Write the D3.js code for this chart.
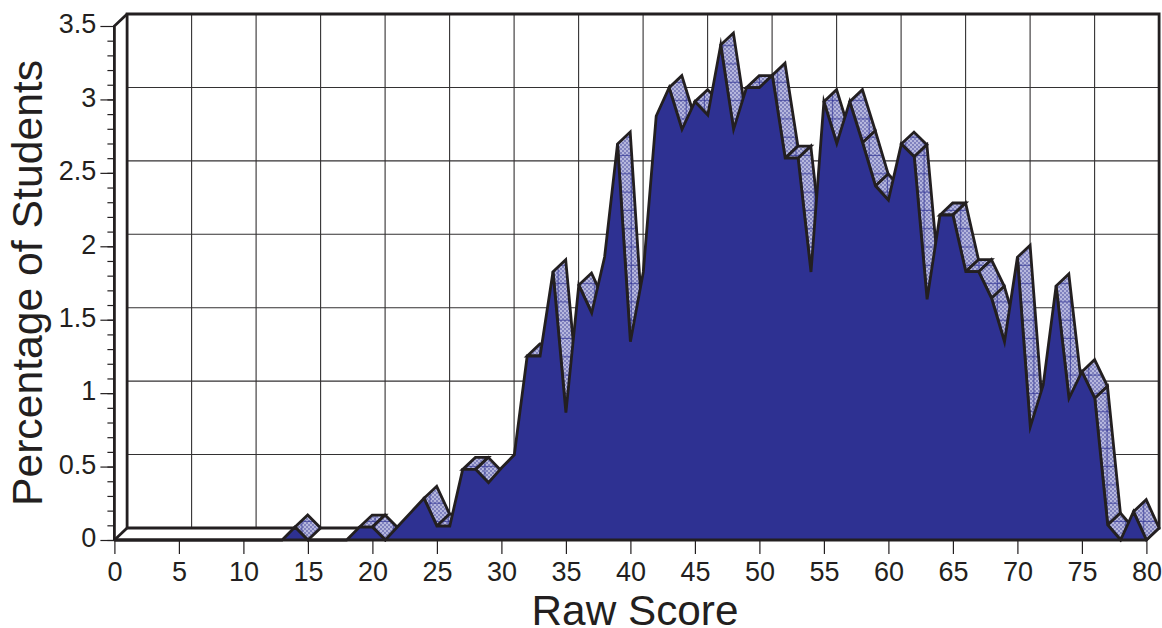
<!DOCTYPE html>
<html>
<head>
<meta charset="utf-8">
<style>
  html, body { margin: 0; padding: 0; background: #fff; }
  svg { display: block; }
  text { font-family: "Liberation Sans", Arial, sans-serif; fill: #231f20; }
</style>
<script src="https://cdn.jsdelivr.net/npm/d3@7"></script>
</head>
<body>
<script>
var width = 1162;
var height = 628;

var ink = "#231f20";
var navy = "#2e3192";

// raw score 0..80, percentage of students
var scores = d3.range(0, 81);
var percents = [
  0, 0, 0, 0, 0, 0, 0, 0, 0, 0,
  0, 0, 0, 0, 0.088, 0, 0, 0, 0, 0.088,
  0.088, 0, 0.095, 0.19, 0.284, 0.095, 0.095, 0.481, 0.481, 0.39,
  0.49, 0.58, 1.253, 1.253, 1.827, 0.867, 1.736, 1.546, 1.927, 2.696,
  1.35, 1.825, 2.887, 3.08, 2.796, 2.985, 2.894, 3.37, 2.796, 3.08,
  3.08, 3.165, 2.6, 2.6, 1.825, 2.985, 2.70, 2.985, 2.705, 2.41,
  2.315, 2.696, 2.61, 1.639, 2.213, 2.213, 1.827, 1.827, 1.646, 1.35,
  1.925, 0.771, 1.055, 1.73, 0.965, 1.146, 0.965, 0.102, 0, 0.193,
  0
];
var xTicks = d3.range(0, 81, 5);
var yTicks = [0, 0.5, 1, 1.5, 2, 2.5, 3, 3.5];
var yMinorTicks = d3.range(0, 35).map(function(d) { return d / 10; });

var x = d3.scaleLinear().domain([0, 80]).range([114.4, 1146.4]);
var y = d3.scaleLinear().domain([0, 3.5]).range([540, 26]);

// offset of the back wall from the front plane
var depthX = 12.7;
var depthY = -12;

var svg = d3.select("body")
            .append("svg")
            .attr("width", width)
            .attr("height", height);

// fine dither plus the sparse blue hatch on the ribbon faces
var defs = svg.append("defs");
var dither = defs.append("pattern")
                 .attr("id", "dither")
                 .attr("patternUnits", "userSpaceOnUse")
                 .attr("width", 4)
                 .attr("height", 4);
dither.append("rect").attr("width", 4).attr("height", 4).attr("fill", "#b6b7dd");
dither.append("rect").attr("width", 2).attr("height", 2).attr("fill", "#8082be");
dither.append("rect").attr("x", 2).attr("y", 2).attr("width", 2).attr("height", 2).attr("fill", "#8082be");

var hatch = defs.append("pattern")
                .attr("id", "hatch")
                .attr("patternUnits", "userSpaceOnUse")
                .attr("width", 18.3)
                .attr("height", 18.3);
hatch.append("path")
     .attr("d", "M0 9H18.3M9 0V18.3")
     .attr("stroke", navy)
     .attr("stroke-width", 0.8)
     .attr("fill", "none");

// back wall grid
var grid = svg.append("g").attr("stroke", "#333132").attr("stroke-width", 1.1);
grid.selectAll("line.v")
    .data(xTicks.slice(1, -1))
    .enter()
    .append("line")
    .attr("class", "v")
    .attr("x1", function(d) { return x(d) + depthX; })
    .attr("x2", function(d) { return x(d) + depthX; })
    .attr("y1", y(3.5) + depthY)
    .attr("y2", y(0) + depthY);
grid.selectAll("line.h")
    .data(yTicks.slice(1, -1))
    .enter()
    .append("line")
    .attr("class", "h")
    .attr("x1", x(0) + depthX)
    .attr("x2", x(80) + depthX)
    .attr("y1", function(d) { return y(d) + depthY; })
    .attr("y2", function(d) { return y(d) + depthY; });

// box outline
var box = svg.append("g")
             .attr("fill", "none")
             .attr("stroke", ink)
             .attr("stroke-width", 2.8);
box.append("path")
   .attr("d", "M" + (x(0) + depthX) + " " + (y(0) + depthY)
     + "V" + (y(3.5) + depthY)
     + "H" + (x(80) + depthX)
     + "V" + (y(0) + depthY)
     + "H" + (x(0) + depthX));
box.append("path")
   .attr("d", "M" + x(0) + " " + y(0)
     + "V" + y(3.5)
     + "L" + (x(0) + depthX) + " " + (y(3.5) + depthY));
box.append("path")
   .attr("d", "M" + x(0) + " " + y(0)
     + "L" + (x(0) + depthX) + " " + (y(0) + depthY));
box.append("path")
   .attr("d", "M" + x(80) + " " + y(0)
     + "L" + (x(80) + depthX) + " " + (y(0) + depthY));

// top faces of the ribbon, only those that turn towards the viewer
var segments = d3.pairs(scores);
function facesViewer(pair) {
  var a = percents[pair[0]], b = percents[pair[1]];
  if (a === 0 && b === 0) return false;
  var rise = y(a) - y(b);
  var run = x(pair[1]) - x(pair[0]);
  return rise / run < -depthY / depthX;
}
function ribbonPath(pair) {
  var a = pair[0], b = pair[1];
  return "M" + x(a) + " " + y(percents[a])
    + "L" + x(b) + " " + y(percents[b])
    + "L" + (x(b) + depthX) + " " + (y(percents[b]) + depthY)
    + "L" + (x(a) + depthX) + " " + (y(percents[a]) + depthY)
    + "Z";
}

var ribbons = svg.append("g").selectAll("g")
                 .data(segments.filter(facesViewer))
                 .enter()
                 .append("g");
ribbons.append("path").attr("d", ribbonPath).attr("fill", "url(#dither)");
ribbons.append("path")
       .attr("d", ribbonPath)
       .attr("fill", "url(#hatch)")
       .attr("stroke", ink)
       .attr("stroke-width", 2.8)
       .attr("stroke-linejoin", "miter");

// front face
var area = d3.area()
             .x(function(d) { return x(d); })
             .y0(y(0))
             .y1(function(d) { return y(percents[d]); });
var line = d3.line()
             .x(function(d) { return x(d); })
             .y(function(d) { return y(percents[d]); });

svg.append("path")
   .attr("d", area(scores))
   .attr("fill", navy);
svg.append("path")
   .attr("d", line(scores))
   .attr("fill", "none")
   .attr("stroke", ink)
   .attr("stroke-width", 2.8)
   .attr("stroke-linejoin", "miter")
   .attr("stroke-miterlimit", 8);
svg.append("line")
   .attr("x1", x(0))
   .attr("x2", x(80))
   .attr("y1", y(0))
   .attr("y2", y(0))
   .attr("stroke", ink)
   .attr("stroke-width", 3);

// axes
var xAxis = d3.axisBottom(x)
              .tickValues(xTicks)
              .tickSize(14)
              .tickPadding(8)
              .tickFormat(d3.format("d"));
var yAxis = d3.axisLeft(y)
              .tickValues(yTicks)
              .tickSize(14)
              .tickPadding(4)
              .tickFormat(function(d) { return String(d); });
var yMinor = d3.axisLeft(y)
               .tickValues(yMinorTicks)
               .tickSize(7)
               .tickFormat("");

var xG = svg.append("g").attr("transform", "translate(0," + y(0) + ")").call(xAxis);
var yG = svg.append("g").attr("transform", "translate(" + x(0) + ",0)").call(yAxis);
var yMinorG = svg.append("g").attr("transform", "translate(" + x(0) + ",0)").call(yMinor);

[xG, yG, yMinorG].forEach(function(g) {
  g.select(".domain").remove();
  g.selectAll(".tick line").attr("stroke", ink).attr("stroke-width", 1.2);
  g.selectAll("text").attr("font-size", 27).attr("fill", ink);
});
yG.selectAll("text").attr("dy", "0.25em");

svg.append("text")
   .attr("x", 635)
   .attr("y", 625)
   .attr("text-anchor", "middle")
   .attr("font-size", 42.3)
   .text("Raw Score");

svg.append("text")
   .attr("transform", "translate(42,283) rotate(-90)")
   .attr("text-anchor", "middle")
   .attr("font-size", 42.7)
   .text("Percentage of Students");
</script>
</body>
</html>
